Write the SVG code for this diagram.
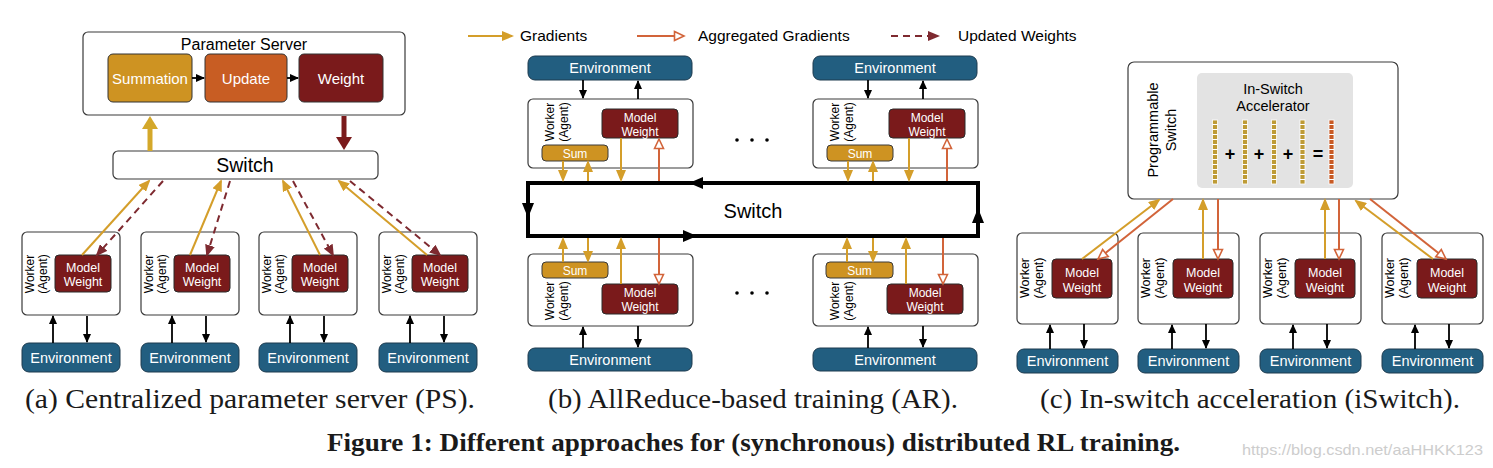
<svg xmlns="http://www.w3.org/2000/svg" width="1493" height="468" viewBox="0 0 1493 468">
<style>
.box{fill:#fff;stroke:#3a3a3a;stroke-width:1.2}
.mw{fill:#7A1A1B;stroke:#2a2a2a;stroke-width:1}
.env{fill:#225E80;stroke:#1c3a4e;stroke-width:1}
.sum{fill:#CE9322;stroke:#3a3a3a;stroke-width:1}
.t{font-family:"Liberation Sans",Arial,sans-serif}
.c{text-anchor:middle}
.w{fill:#fff}
.g{stroke:#D49E2A;stroke-width:2;fill:none}
.o{stroke:#D2643A;stroke-width:2;fill:none}
.r{stroke:#7E2A30;stroke-width:2;fill:none;stroke-dasharray:7 5}
.k{stroke:#000;stroke-width:1.8;fill:none}
.cap{font-family:"Liberation Serif","Times New Roman",serif;fill:#1a1a1a}
</style>
<defs>
<marker id="ag" markerUnits="userSpaceOnUse" markerWidth="12" markerHeight="10" refX="10" refY="5" orient="auto"><path d="M0,0 L12,5 L0,10 z" fill="#D49E2A"/></marker>
<marker id="ar" markerUnits="userSpaceOnUse" markerWidth="12" markerHeight="10" refX="10" refY="5" orient="auto"><path d="M0,0 L12,5 L0,10 z" fill="#7E2A30"/></marker>
<marker id="ao" markerUnits="userSpaceOnUse" markerWidth="13" markerHeight="12" refX="11" refY="6" orient="auto"><path d="M1.5,1.5 L11,6 L1.5,10.5 z" fill="#fff" stroke="#D2643A" stroke-width="1.6"/></marker>
<marker id="ak" markerUnits="userSpaceOnUse" markerWidth="9" markerHeight="8" refX="8" refY="4" orient="auto"><path d="M0,0 L9,4 L0,8 z" fill="#000"/></marker>
</defs>

<!-- Legend -->
<g id="legend">
<line class="g" x1="468" y1="36" x2="512" y2="36" marker-end="url(#ag)"/>
<text class="t" x="520" y="41" font-size="15.5">Gradients</text>
<line class="o" x1="637" y1="36" x2="684" y2="36" marker-end="url(#ao)"/>
<text class="t" x="698" y="41" font-size="15.5">Aggregated Gradients</text>
<line class="r" x1="891" y1="36" x2="938" y2="36" marker-end="url(#ar)"/>
<text class="t" x="958" y="41" font-size="15.5">Updated Weights</text>
</g>

<!-- ============ Panel (a) ============ -->
<g id="a-ps">
<rect class="box" x="83" y="32" width="322" height="83" rx="5"/>
<text class="t c" x="244" y="50" font-size="16">Parameter Server</text>
</g>
<g id="a-summation"><rect x="108" y="54" width="84" height="48" rx="5" fill="#CE9322" stroke="#333"/><text class="t c w" x="150" y="83.5" font-size="15">Summation</text></g>
<g id="a-update"><rect x="205" y="54" width="82" height="48" rx="5" fill="#C85D23" stroke="#333"/><text class="t c w" x="246" y="83.5" font-size="15">Update</text></g>
<g id="a-weight"><rect x="299" y="54" width="84" height="48" rx="5" fill="#7A1A1B" stroke="#333"/><text class="t c w" x="341" y="83.5" font-size="15">Weight</text></g>
<g id="a-switch">
<rect class="box" x="113" y="151" width="265" height="28" rx="5"/>
<text class="t c" x="245" y="172" font-size="19.5">Switch</text>
</g>

<g id="a-worker1"><rect class="box" x="22" y="232" width="98" height="83" rx="5"/>
<text class="t c" font-size="12" transform="translate(34,274) rotate(-90)"><tspan x="0" y="0">Worker</tspan><tspan x="0" y="13">(Agent)</tspan></text>
<rect class="mw" x="55" y="255" width="56" height="37" rx="4"/>
<text class="t c w" font-size="12.5" x="83" y="271.5">Model</text><text class="t c w" font-size="12.5" x="83" y="285.5">Weight</text></g>
<g id="a-worker2"><rect class="box" x="141" y="232" width="98" height="83" rx="5"/>
<text class="t c" font-size="12" transform="translate(153,274) rotate(-90)"><tspan x="0" y="0">Worker</tspan><tspan x="0" y="13">(Agent)</tspan></text>
<rect class="mw" x="174" y="255" width="56" height="37" rx="4"/>
<text class="t c w" font-size="12.5" x="202" y="271.5">Model</text><text class="t c w" font-size="12.5" x="202" y="285.5">Weight</text></g>
<g id="a-worker3"><rect class="box" x="259" y="232" width="98" height="83" rx="5"/>
<text class="t c" font-size="12" transform="translate(271,274) rotate(-90)"><tspan x="0" y="0">Worker</tspan><tspan x="0" y="13">(Agent)</tspan></text>
<rect class="mw" x="292" y="255" width="56" height="37" rx="4"/>
<text class="t c w" font-size="12.5" x="320" y="271.5">Model</text><text class="t c w" font-size="12.5" x="320" y="285.5">Weight</text></g>
<g id="a-worker4"><rect class="box" x="379" y="232" width="98" height="83" rx="5"/>
<text class="t c" font-size="12" transform="translate(391,274) rotate(-90)"><tspan x="0" y="0">Worker</tspan><tspan x="0" y="13">(Agent)</tspan></text>
<rect class="mw" x="412" y="255" width="56" height="37" rx="4"/>
<text class="t c w" font-size="12.5" x="440" y="271.5">Model</text><text class="t c w" font-size="12.5" x="440" y="285.5">Weight</text></g>

<g id="a-env1"><rect class="env" x="22" y="343" width="98" height="29" rx="7"/><text class="t c w" x="71" y="362.5" font-size="14.5">Environment</text></g>
<g id="a-env2"><rect class="env" x="141" y="343" width="98" height="29" rx="7"/><text class="t c w" x="190" y="362.5" font-size="14.5">Environment</text></g>
<g id="a-env3"><rect class="env" x="259" y="343" width="98" height="29" rx="7"/><text class="t c w" x="308" y="362.5" font-size="14.5">Environment</text></g>
<g id="a-env4"><rect class="env" x="379" y="343" width="98" height="29" rx="7"/><text class="t c w" x="428" y="362.5" font-size="14.5">Environment</text></g>

<!-- ============ Panel (b) ============ -->
<g id="b-switch">
<path d="M978,183 H528 V236 H978 Z" fill="#fff" stroke="#000" stroke-width="4" stroke-linejoin="miter"/>
<polygon points="689,183 703,177 703,189" fill="#000"/>
<polygon points="528,218 522,203 534,203" fill="#000"/>
<polygon points="697,236 683,230 683,242" fill="#000"/>
<polygon points="978,208 972,223 984,223" fill="#000"/>
<text class="t c" x="753" y="218" font-size="20">Switch</text>
</g>

<g id="b-env-tl"><rect class="env" x="528" y="56" width="164" height="24" rx="7"/><text class="t c w" x="610" y="73" font-size="14.5">Environment</text></g>
<g id="b-worker-tl"><rect class="box" x="528" y="99" width="165" height="69" rx="5"/>
<text class="t c" font-size="12" transform="translate(554,122) rotate(-90)"><tspan x="0" y="0">Worker</tspan><tspan x="0" y="14">(Agent)</tspan></text>
<rect class="mw" x="602" y="109" width="76" height="29" rx="4"/>
<text class="t c w" font-size="12" x="640" y="121.5">Model</text><text class="t c w" font-size="12" x="640" y="135.5">Weight</text>
<rect class="sum" x="542" y="145" width="66" height="16" rx="4"/><text class="t c w" font-size="12" x="575" y="157.5">Sum</text></g>

<g id="b-worker-bl"><rect class="box" x="528" y="254" width="165" height="72" rx="5"/>
<text class="t c" font-size="12" transform="translate(554,301) rotate(-90)"><tspan x="0" y="0">Worker</tspan><tspan x="0" y="14">(Agent)</tspan></text>
<rect class="sum" x="542" y="262" width="66" height="16" rx="4"/><text class="t c w" font-size="12" x="575" y="274.5">Sum</text>
<rect class="mw" x="602" y="284" width="76" height="30" rx="4"/>
<text class="t c w" font-size="12" x="640" y="296.5">Model</text><text class="t c w" font-size="12" x="640" y="311">Weight</text></g>
<g id="b-env-bl"><rect class="env" x="528" y="348" width="164" height="23" rx="7"/><text class="t c w" x="610" y="364.5" font-size="14.5">Environment</text></g>

<g id="b-env-tr"><rect class="env" x="813" y="56" width="164" height="24" rx="7"/><text class="t c w" x="895" y="73" font-size="14.5">Environment</text></g>
<g id="b-worker-tr"><rect class="box" x="813" y="99" width="165" height="69" rx="5"/>
<text class="t c" font-size="12" transform="translate(839,122) rotate(-90)"><tspan x="0" y="0">Worker</tspan><tspan x="0" y="14">(Agent)</tspan></text>
<rect class="mw" x="889" y="109" width="76" height="29" rx="4"/>
<text class="t c w" font-size="12" x="927" y="121.5">Model</text><text class="t c w" font-size="12" x="927" y="135.5">Weight</text>
<rect class="sum" x="827" y="145" width="66" height="16" rx="4"/><text class="t c w" font-size="12" x="860" y="157.5">Sum</text></g>

<g id="b-worker-br"><rect class="box" x="813" y="254" width="165" height="72" rx="5"/>
<text class="t c" font-size="12" transform="translate(839,301) rotate(-90)"><tspan x="0" y="0">Worker</tspan><tspan x="0" y="14">(Agent)</tspan></text>
<rect class="sum" x="826" y="262" width="67" height="16" rx="4"/><text class="t c w" font-size="12" x="859.5" y="274.5">Sum</text>
<rect class="mw" x="887" y="284" width="76" height="30" rx="4"/>
<text class="t c w" font-size="12" x="925" y="296.5">Model</text><text class="t c w" font-size="12" x="925" y="311">Weight</text></g>
<g id="b-env-br"><rect class="env" x="813" y="348" width="164" height="23" rx="7"/><text class="t c w" x="895" y="364.5" font-size="14.5">Environment</text></g>

<g id="b-dots">
<circle cx="737" cy="140" r="1.8"/><circle cx="752" cy="140" r="1.8"/><circle cx="767" cy="140" r="1.8"/>
<circle cx="737" cy="293" r="1.8"/><circle cx="752" cy="293" r="1.8"/><circle cx="767" cy="293" r="1.8"/>
</g>

<!-- ============ Panel (c) ============ -->
<g id="c-switch">
<rect class="box" x="1128" y="62" width="270" height="137" rx="6"/>
<text class="t c" font-size="14.5" transform="translate(1158,130) rotate(-90)"><tspan x="0" y="0">Programmable</tspan><tspan x="0" y="18">Switch</tspan></text>
</g>
<g id="c-accelerator">
<rect x="1197" y="73" width="156" height="115" rx="5" fill="#E3E3E3"/>
<text class="t c" x="1273" y="94" font-size="14.5">In-Switch</text>
<text class="t c" x="1273" y="111" font-size="14.5">Accelerator</text>
<rect x="1212.5" y="120" width="5" height="64" fill="#BE9B35" stroke="#fff" stroke-width="0.8"/>
<rect x="1242.5" y="120" width="5" height="64" fill="#BE9B35" stroke="#fff" stroke-width="0.8"/>
<rect x="1271.5" y="120" width="5" height="64" fill="#BE9B35" stroke="#fff" stroke-width="0.8"/>
<rect x="1300" y="120" width="5" height="64" fill="#BE9B35" stroke="#fff" stroke-width="0.8"/>
<rect x="1329" y="120" width="5" height="64" fill="#C85A24" stroke="#fff" stroke-width="0.8"/>
<g stroke="#fff" stroke-width="5" stroke-dasharray="1 4">
<line x1="1215" y1="124" x2="1215" y2="184"/><line x1="1245" y1="124" x2="1245" y2="184"/><line x1="1274" y1="124" x2="1274" y2="184"/><line x1="1302.5" y1="124" x2="1302.5" y2="184"/><line x1="1331.5" y1="124" x2="1331.5" y2="184"/>
</g>
<g class="t c" font-size="18" font-weight="bold">
<text x="1230" y="160">+</text><text x="1259" y="160">+</text><text x="1288" y="160">+</text><text x="1318" y="160">=</text>
</g>
</g>

<g id="c-worker1"><rect class="box" x="1017" y="233" width="101" height="91" rx="5"/>
<text class="t c" font-size="12.5" transform="translate(1029,278) rotate(-90)"><tspan x="0" y="0">Worker</tspan><tspan x="0" y="14">(Agent)</tspan></text>
<rect class="mw" x="1052" y="259" width="60" height="39" rx="4"/>
<text class="t c w" font-size="12.5" x="1082" y="276.5">Model</text><text class="t c w" font-size="12.5" x="1082" y="291.5">Weight</text></g>
<g id="c-worker2"><rect class="box" x="1138" y="233" width="101" height="91" rx="5"/>
<text class="t c" font-size="12.5" transform="translate(1150,278) rotate(-90)"><tspan x="0" y="0">Worker</tspan><tspan x="0" y="14">(Agent)</tspan></text>
<rect class="mw" x="1173" y="259" width="60" height="39" rx="4"/>
<text class="t c w" font-size="12.5" x="1203" y="276.5">Model</text><text class="t c w" font-size="12.5" x="1203" y="291.5">Weight</text></g>
<g id="c-worker3"><rect class="box" x="1260" y="233" width="101" height="91" rx="5"/>
<text class="t c" font-size="12.5" transform="translate(1272,278) rotate(-90)"><tspan x="0" y="0">Worker</tspan><tspan x="0" y="14">(Agent)</tspan></text>
<rect class="mw" x="1295" y="259" width="60" height="39" rx="4"/>
<text class="t c w" font-size="12.5" x="1325" y="276.5">Model</text><text class="t c w" font-size="12.5" x="1325" y="291.5">Weight</text></g>
<g id="c-worker4"><rect class="box" x="1382" y="233" width="101" height="91" rx="5"/>
<text class="t c" font-size="12.5" transform="translate(1394,278) rotate(-90)"><tspan x="0" y="0">Worker</tspan><tspan x="0" y="14">(Agent)</tspan></text>
<rect class="mw" x="1417" y="259" width="60" height="39" rx="4"/>
<text class="t c w" font-size="12.5" x="1447" y="276.5">Model</text><text class="t c w" font-size="12.5" x="1447" y="291.5">Weight</text></g>

<g id="c-env1"><rect class="env" x="1017" y="349" width="101" height="24" rx="7"/><text class="t c w" x="1067.5" y="366" font-size="14.5">Environment</text></g>
<g id="c-env2"><rect class="env" x="1138" y="349" width="101" height="24" rx="7"/><text class="t c w" x="1188.5" y="366" font-size="14.5">Environment</text></g>
<g id="c-env3"><rect class="env" x="1260" y="349" width="101" height="24" rx="7"/><text class="t c w" x="1310.5" y="366" font-size="14.5">Environment</text></g>
<g id="c-env4"><rect class="env" x="1382" y="349" width="101" height="24" rx="7"/><text class="t c w" x="1432.5" y="366" font-size="14.5">Environment</text></g>

<!-- ============ Connectors ============ -->
<g id="connectors">
<!-- (a) inside PS -->
<line class="k" x1="192" y1="78" x2="204" y2="78" marker-end="url(#ak)"/>
<line class="k" x1="287" y1="78" x2="298" y2="78" marker-end="url(#ak)"/>
<!-- (a) PS <-> switch -->
<line x1="150" y1="151" x2="150" y2="128" stroke="#D4A82A" stroke-width="5"/>
<polygon points="142,129 158,129 150,116" fill="#D4A82A"/>
<line x1="344" y1="116" x2="344" y2="138" stroke="#7A1A1B" stroke-width="5"/>
<polygon points="336,137 352,137 344,150" fill="#7A1A1B"/>
<!-- (a) workers <-> switch -->
<line class="g" x1="82" y1="255" x2="149" y2="181" marker-end="url(#ag)"/>
<line class="r" x1="163" y1="181" x2="97" y2="255" marker-end="url(#ar)"/>
<line class="g" x1="190" y1="255" x2="221" y2="181" marker-end="url(#ag)"/>
<line class="r" x1="230" y1="181" x2="207" y2="255" marker-end="url(#ar)"/>
<line class="g" x1="320" y1="255" x2="283" y2="181" marker-end="url(#ag)"/>
<line class="r" x1="293" y1="181" x2="333" y2="255" marker-end="url(#ar)"/>
<line class="g" x1="427" y1="255" x2="339" y2="181" marker-end="url(#ag)"/>
<line class="r" x1="350" y1="181" x2="440" y2="255" marker-end="url(#ar)"/>
<!-- (a) env arrows -->
<line class="k" x1="53" y1="343" x2="53" y2="316" marker-end="url(#ak)"/>
<line class="k" x1="87" y1="316" x2="87" y2="342" marker-end="url(#ak)"/>
<line class="k" x1="172" y1="343" x2="172" y2="316" marker-end="url(#ak)"/>
<line class="k" x1="206" y1="316" x2="206" y2="342" marker-end="url(#ak)"/>
<line class="k" x1="290" y1="343" x2="290" y2="316" marker-end="url(#ak)"/>
<line class="k" x1="324" y1="316" x2="324" y2="342" marker-end="url(#ak)"/>
<line class="k" x1="410" y1="343" x2="410" y2="316" marker-end="url(#ak)"/>
<line class="k" x1="444" y1="316" x2="444" y2="342" marker-end="url(#ak)"/>

<!-- (b) env arrows -->
<line class="k" x1="583" y1="80" x2="583" y2="98" marker-end="url(#ak)"/>
<line class="k" x1="638" y1="99" x2="638" y2="81" marker-end="url(#ak)"/>
<line class="k" x1="583" y1="348" x2="583" y2="327" marker-end="url(#ak)"/>
<line class="k" x1="638" y1="326" x2="638" y2="347" marker-end="url(#ak)"/>
<line class="k" x1="868" y1="80" x2="868" y2="98" marker-end="url(#ak)"/>
<line class="k" x1="923" y1="99" x2="923" y2="81" marker-end="url(#ak)"/>
<line class="k" x1="868" y1="348" x2="868" y2="327" marker-end="url(#ak)"/>
<line class="k" x1="923" y1="326" x2="923" y2="347" marker-end="url(#ak)"/>
<!-- (b) top-left worker <-> switch -->
<line class="g" x1="563" y1="161" x2="563" y2="180" marker-end="url(#ag)"/>
<line class="g" x1="588" y1="181" x2="588" y2="162" marker-end="url(#ag)"/>
<line class="g" x1="621" y1="138" x2="621" y2="180" marker-end="url(#ag)"/>
<line class="o" x1="659" y1="181" x2="659" y2="139" marker-end="url(#ao)"/>
<!-- (b) bottom-left -->
<line class="g" x1="563" y1="262" x2="563" y2="239" marker-end="url(#ag)"/>
<line class="g" x1="588" y1="238" x2="588" y2="261" marker-end="url(#ag)"/>
<line class="g" x1="621" y1="284" x2="621" y2="239" marker-end="url(#ag)"/>
<line class="o" x1="659" y1="238" x2="659" y2="284" marker-end="url(#ao)"/>
<!-- (b) top-right -->
<line class="g" x1="848" y1="161" x2="848" y2="180" marker-end="url(#ag)"/>
<line class="g" x1="873" y1="181" x2="873" y2="162" marker-end="url(#ag)"/>
<line class="g" x1="909" y1="138" x2="909" y2="180" marker-end="url(#ag)"/>
<line class="o" x1="947" y1="181" x2="947" y2="139" marker-end="url(#ao)"/>
<!-- (b) bottom-right -->
<line class="g" x1="847" y1="262" x2="847" y2="239" marker-end="url(#ag)"/>
<line class="g" x1="873" y1="238" x2="873" y2="261" marker-end="url(#ag)"/>
<line class="g" x1="906" y1="284" x2="906" y2="239" marker-end="url(#ag)"/>
<line class="o" x1="943" y1="238" x2="943" y2="284" marker-end="url(#ao)"/>

<!-- (c) workers <-> switch -->
<line class="g" x1="1082" y1="259" x2="1159" y2="200" marker-end="url(#ag)"/>
<line class="o" x1="1173" y1="199" x2="1098" y2="259" marker-end="url(#ao)"/>
<line class="g" x1="1203" y1="259" x2="1203" y2="200" marker-end="url(#ag)"/>
<line class="o" x1="1218" y1="199" x2="1218" y2="259" marker-end="url(#ao)"/>
<line class="g" x1="1325" y1="259" x2="1325" y2="200" marker-end="url(#ag)"/>
<line class="o" x1="1339" y1="199" x2="1339" y2="259" marker-end="url(#ao)"/>
<line class="g" x1="1433" y1="259" x2="1356" y2="201" marker-end="url(#ag)"/>
<line class="o" x1="1370" y1="199" x2="1446" y2="259" marker-end="url(#ao)"/>
<!-- (c) env arrows -->
<line class="k" x1="1050" y1="349" x2="1050" y2="325" marker-end="url(#ak)"/>
<line class="k" x1="1084" y1="324" x2="1084" y2="348" marker-end="url(#ak)"/>
<line class="k" x1="1172" y1="349" x2="1172" y2="325" marker-end="url(#ak)"/>
<line class="k" x1="1206" y1="324" x2="1206" y2="348" marker-end="url(#ak)"/>
<line class="k" x1="1293" y1="349" x2="1293" y2="325" marker-end="url(#ak)"/>
<line class="k" x1="1327" y1="324" x2="1327" y2="348" marker-end="url(#ak)"/>
<line class="k" x1="1415" y1="349" x2="1415" y2="325" marker-end="url(#ak)"/>
<line class="k" x1="1449" y1="324" x2="1449" y2="348" marker-end="url(#ak)"/>
</g>

<!-- Captions -->
<g id="captions">
<text class="cap" x="25" y="408" font-size="27" textLength="450" lengthAdjust="spacingAndGlyphs">(a) Centralized parameter server (PS).</text>
<text class="cap" x="548" y="408" font-size="27" textLength="410" lengthAdjust="spacingAndGlyphs">(b) AllReduce-based training (AR).</text>
<text class="cap" x="1040" y="408" font-size="27" textLength="420" lengthAdjust="spacingAndGlyphs">(c) In-switch acceleration (iSwitch).</text>
<text class="cap" x="327" y="451" font-size="25" font-weight="bold" textLength="853" lengthAdjust="spacingAndGlyphs">Figure 1: Different approaches for (synchronous) distributed RL training.</text>
<text x="1242" y="455" font-family="'Liberation Sans',Arial,sans-serif" font-size="15" fill="#cdcdcd" textLength="241" lengthAdjust="spacingAndGlyphs">https://blog.csdn.net/aaHHKK123</text>
</g>
</svg>
